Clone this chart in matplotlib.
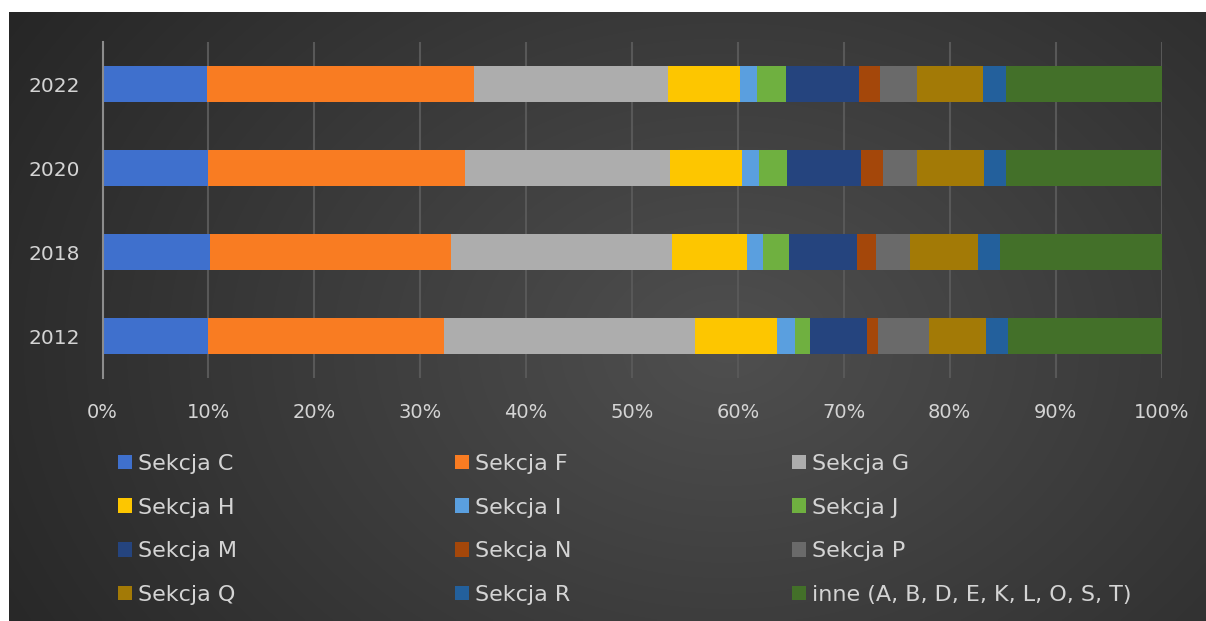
import numpy as np
import matplotlib
matplotlib.use("Agg")
import matplotlib.pyplot as plt
from matplotlib.patches import Patch

years = ["2012", "2018", "2020", "2022"]
series_names = ["Sekcja C", "Sekcja F", "Sekcja G", "Sekcja H", "Sekcja I", "Sekcja J",
                "Sekcja M", "Sekcja N", "Sekcja P", "Sekcja Q", "Sekcja R",
                "inne (A, B, D, E, K, L, O, S, T)"]
# shares in % per year (order: 2012, 2018, 2020, 2022)
sekcja_c = [9.95, 10.11, 9.95, 9.88]
sekcja_f = [22.26, 22.81, 24.24, 25.19]
sekcja_g = [23.75, 20.86, 19.40, 18.32]
sekcja_h = [7.74, 7.09, 6.79, 6.80]
sekcja_i = [1.69, 1.49, 1.62, 1.62]
sekcja_j = [1.43, 2.48, 2.64, 2.73]
sekcja_m = [5.40, 6.40, 6.99, 6.90]
sekcja_n = [1.00, 1.82, 2.08, 1.98]
sekcja_p = [4.82, 3.19, 3.19, 3.48]
sekcja_q = [5.43, 6.40, 6.34, 6.24]
sekcja_r = [2.05, 2.09, 2.08, 2.15]
inne = [14.48, 15.26, 14.68, 14.71]

values = [sekcja_c, sekcja_f, sekcja_g, sekcja_h, sekcja_i, sekcja_j,
          sekcja_m, sekcja_n, sekcja_p, sekcja_q, sekcja_r, inne]
colors = ["#3f70cd", "#f97c22", "#adadad", "#fdc600", "#5a9fdf", "#6fb040",
          "#25447e", "#a4470a", "#6a6a6a", "#a37a06", "#23609c", "#437029"]

FONT = ["DejaVu Sans"]
TXT = "#d4d4d4"

fig = plt.figure(figsize=(12.06, 6.21), dpi=100, facecolor="white")

# dark gradient background panel
bg = fig.add_axes([9 / 1206, 0, 1 - 9 / 1206, 1 - 12 / 621], zorder=-10)
gx = np.linspace(0, 1, 400)
gy = np.linspace(0, 1, 200)
X, Y = np.meshgrid(gx, gy)
d = np.sqrt(((X - 0.6) / 0.75) ** 2 + ((Y - 0.55) / 1.1) ** 2)
val = np.clip(0.31 - 0.17 * d, 0.14, 0.31)
bg.imshow(np.dstack([val, val, val]), aspect="auto", extent=[0, 1, 0, 1], interpolation="bilinear")
bg.set_axis_off()

left = 102.5 / 1206
right = 1161.5 / 1206
bottom = 1 - 378 / 621
top = 1 - 42 / 621
ax = fig.add_axes([left, bottom, right - left, top - bottom])
ax.set_facecolor("none")

y = np.arange(len(years))
cum = np.zeros(len(years))
handles = []
for name, vals, c in zip(series_names, values, colors):
    v = np.array(vals) / 100.0
    ax.barh(y, v, left=cum, height=0.44, color=c, edgecolor="none", zorder=3, label=name)
    cum += v
    handles.append(Patch(facecolor=c, edgecolor="none", label=name))

ax.set_xlim(0, 1)
ax.set_ylim(-0.5, len(years) - 0.5)
ax.set_xticks(np.linspace(0, 1, 11))
ax.set_xticklabels([f"{int(t)}%" for t in np.linspace(0, 100, 11)], fontsize=14, color=TXT, family=FONT)
ax.set_yticks(y)
ax.set_yticklabels(years, fontsize=14.5, color=TXT, family=FONT)
ax.tick_params(axis="both", length=0)
ax.tick_params(axis="x", pad=18)
ax.tick_params(axis="y", pad=16)
ax.grid(axis="x", color="#585858", linewidth=1.5, zorder=0)
for s in ["top", "right", "bottom"]:
    ax.spines[s].set_visible(False)
ax.spines["left"].set_color("#8c8c8c")
ax.spines["left"].set_linewidth(1.5)
ax.spines["left"].set_zorder(4)

# legend: 3 columns, row-major order
col_x = [118 / 1206, 455 / 1206, 792 / 1206]
for ci in range(3):
    hs = [handles[ci + 3 * r] for r in range(4)]
    leg = fig.legend(handles=hs, loc="upper left", bbox_to_anchor=(col_x[ci], 1 - 454 / 621),
                     frameon=False, ncol=1, handlelength=0.63, handleheight=0.63,
                     handletextpad=0.25, labelspacing=1.06, borderaxespad=0, borderpad=0,
                     prop={"family": FONT, "size": 16})
    for t in leg.get_texts():
        t.set_color(TXT)

fig.savefig("out.png", dpi=100, facecolor=fig.get_facecolor())
